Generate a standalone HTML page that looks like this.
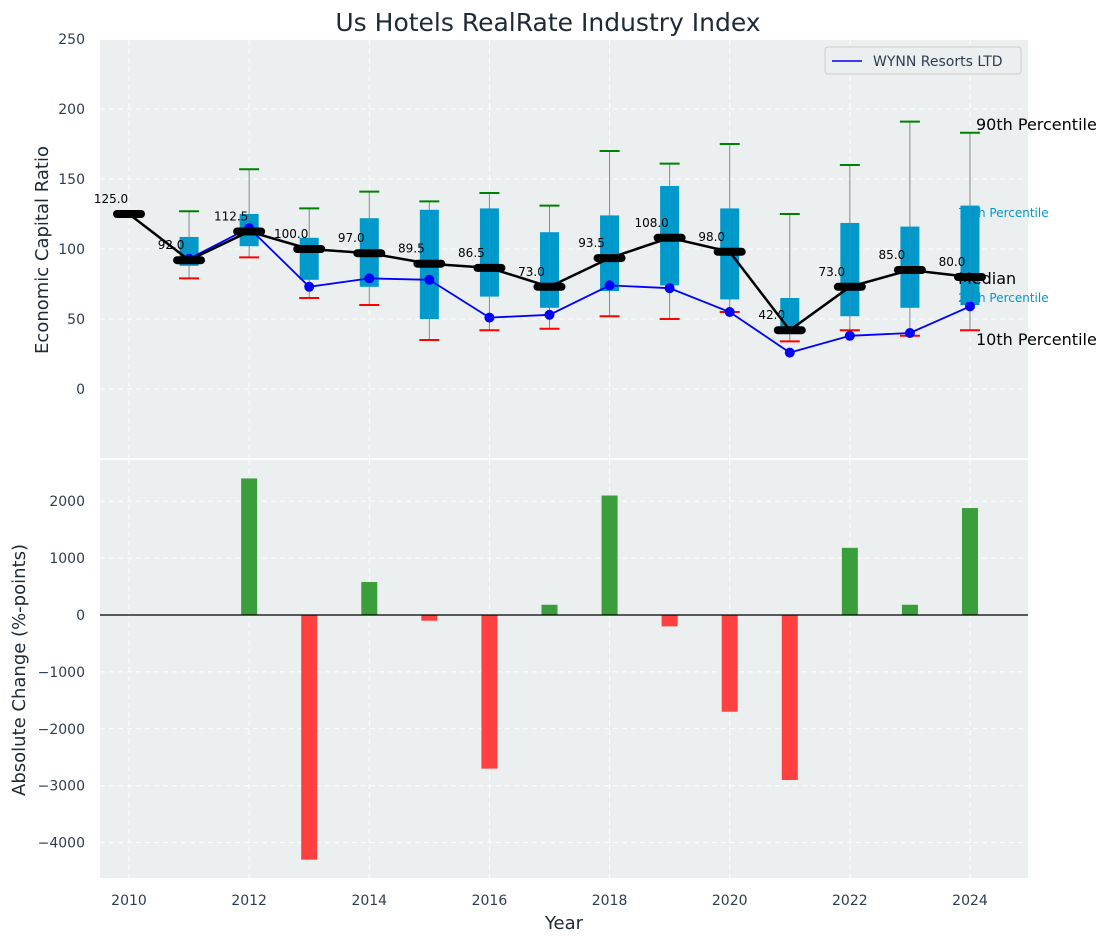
<!DOCTYPE html>
<html><head><meta charset="utf-8"><style>
body{margin:0;background:#fff;font-family:"Liberation Sans","DejaVu Sans",sans-serif}
svg text{font-family:"DejaVu Sans","Liberation Sans",sans-serif}
</style></head><body>
<svg id="c" width="1111" height="942" xmlns="http://www.w3.org/2000/svg"></svg>
<script>
const years=[2010,2011,2012,2013,2014,2015,2016,2017,2018,2019,2020,2021,2022,2023,2024];
const medians=[125,92,112.5,100,97,89.5,86.5,73,93.5,108,98,42,73,85,80];
const q1=[null,88,102,78,73,50,66,58,70,74,64,40,52,58,60];
const q3=[null,108.6,125,108,122,128,129,112,124,145,129,65,118.6,116,131];
const p10=[null,79,94,65,60,35,42,43,52,50,55,34,42,38,42];
const p90=[null,127,157,129,141,134,140,131,170,161,175,125,160,191,183];
const wynnYears=[2011,2012,2013,2014,2015,2016,2017,2018,2019,2020,2021,2022,2023,2024];
const wynn=[93,115,73,79,78,51,53,74,72,55,26,38,40,59];
const changes=[null,null,2400,-4300,580,-100,-2700,180,2100,-200,-1700,-2900,1180,180,1880];
const topTicks=[0,50,100,150,200,250];
const botTicks=[-4000,-3000,-2000,-1000,0,1000,2000];
const xTicks=[2010,2012,2014,2016,2018,2020,2022,2024];

const svg=document.getElementById('c');const NS='http://www.w3.org/2000/svg';
function el(t,a,p){const e=document.createElementNS(NS,t);for(const k in a)e.setAttribute(k,a[k]);(p||svg).appendChild(e);return e;}
const L=100,R=1028;
const X=v=>129+(v-2010)*60.07;
const Y1=v=>389-v*1.4;
const Y2=v=>615-v*0.0569;
let e=el('rect',{x:L,y:40,width:R-L,height:418,fill:'#ebeff0'});

e=el('rect',{x:L,y:460,width:R-L,height:418,fill:'#ebeff0'});

for(const t of topTicks){el('line',{x1:L,x2:R,y1:Y1(t),y2:Y1(t),stroke:'#fff','stroke-dasharray':'5,4','stroke-width':1});
e=el('text',{x:85,y:Y1(t)+5,'text-anchor':'end','font-size':14,fill:'#2e3e50'});e.textContent=t;
}
for(const t of botTicks){el('line',{x1:L,x2:R,y1:Y2(t),y2:Y2(t),stroke:'#fff','stroke-dasharray':'5,4','stroke-width':1});
e=el('text',{x:85,y:Y2(t)+5,'text-anchor':'end','font-size':14,fill:'#2e3e50'});e.textContent=(t<0?'−'+(-t):t);
}
for(const t of xTicks){el('line',{x1:X(t),x2:X(t),y1:40,y2:458,stroke:'#fff','stroke-dasharray':'5,4'});
el('line',{x1:X(t),x2:X(t),y1:460,y2:878,stroke:'#fff','stroke-dasharray':'5,4'});
e=el('text',{x:X(t),y:905,'text-anchor':'middle','font-size':14,fill:'#2e3e50'});e.textContent=t;
}
years.forEach((yr,i)=>{if(q1[i]==null)return;const x=X(yr);
e=el('line',{x1:x,x2:x,y1:Y1(p90[i]),y2:Y1(p10[i]),stroke:'#888','stroke-width':1});

e=el('rect',{x:x-9.5,y:Y1(q3[i]),width:19,height:Y1(q1[i])-Y1(q3[i]),fill:'#0099cc'});

el('line',{x1:x,x2:x,y1:Y1(q3[i]),y2:Y1(q1[i]),stroke:'#5a8a9a','stroke-width':1,opacity:0.6});
e=el('line',{x1:x-10,x2:x+10,y1:Y1(p90[i]),y2:Y1(p90[i]),stroke:'green','stroke-width':2});

e=el('line',{x1:x-10,x2:x+10,y1:Y1(p10[i]),y2:Y1(p10[i]),stroke:'red','stroke-width':2});
});
e=el('polyline',{points:wynnYears.map((y,i)=>X(y)+','+Y1(wynn[i])).join(' '),fill:'none',stroke:'blue','stroke-width':1.8});

wynnYears.forEach((y,i)=>{e=el('circle',{cx:X(y),cy:Y1(wynn[i]),r:5,fill:'blue'});
});
e=el('polyline',{points:years.map((y,i)=>X(y)+','+Y1(medians[i])).join(' '),fill:'none',stroke:'#000','stroke-width':2.5});

years.forEach((y,i)=>{e=el('line',{x1:X(y)-12,x2:X(y)+12,y1:Y1(medians[i]),y2:Y1(medians[i]),stroke:'#000','stroke-width':8,'stroke-linecap':'round'});

e=el('text',{x:X(y)-18,y:Y1(medians[i])-11,'text-anchor':'middle','font-size':12,fill:'#000'});e.textContent=medians[i].toFixed(1);
});
const lab=[['90th Percentile',976,130,16,'#000'],['75th Percentile',958,217,12,'#0099cc'],['Median',958,284,16,'#000'],['25th Percentile',958,302,12,'#0099cc'],['10th Percentile',976,345,16,'#000']];
lab.forEach(l=>{e=el('text',{x:l[1],y:l[2],'font-size':l[3],fill:l[4]});e.textContent=l[0];
});
e=el('rect',{x:825,y:47,width:196,height:27,rx:3,fill:'#ebeff0',stroke:'#ccc'});

el('line',{x1:832,x2:862,y1:61,y2:61,stroke:'blue','stroke-width':1.6});
e=el('text',{x:873,y:66,'font-size':14,fill:'#2e3e50'});e.textContent='WYNN Resorts LTD';

years.forEach((y,i)=>{const v=changes[i];if(v==null)return;
e=el('rect',{x:X(y)-8,y:Math.min(Y2(v),Y2(0)),width:16,height:Math.abs(Y2(v)-Y2(0)),fill:v>=0?'#3a9e3a':'#ff4040'});
});
el('line',{x1:L,x2:R,y1:Y2(0),y2:Y2(0),stroke:'#000','stroke-width':1.2});
e=el('text',{x:548,y:31,'text-anchor':'middle','font-size':25,fill:'#1e2a36'});e.textContent='Us Hotels RealRate Industry Index';

e=el('text',{x:0,y:0,'text-anchor':'middle','font-size':18,fill:'#1e2a36',transform:'translate(48,250) rotate(-90)'});e.textContent='Economic Capital Ratio';

e=el('text',{x:0,y:0,'text-anchor':'middle','font-size':18,fill:'#1e2a36',transform:'translate(25,670) rotate(-90)'});e.textContent='Absolute Change (%-points)';

e=el('text',{x:564,y:929,'text-anchor':'middle','font-size':18,fill:'#1e2a36'});e.textContent='Year';

</script>
</body></html>
